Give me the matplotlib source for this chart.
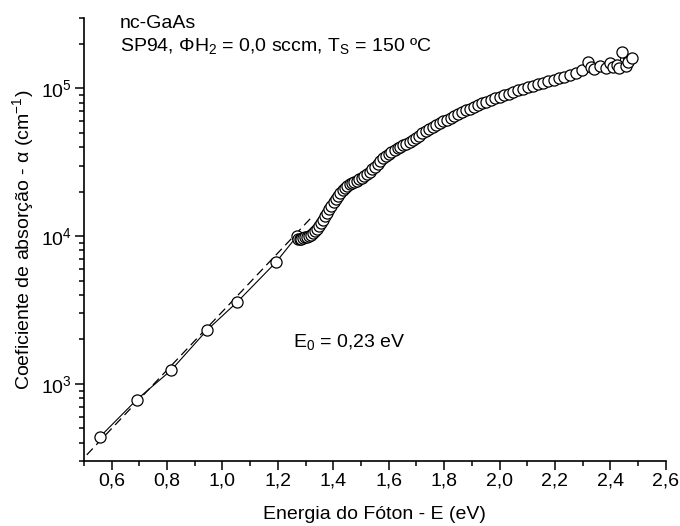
import math
import matplotlib
matplotlib.use("Agg")
import matplotlib.pyplot as plt
from matplotlib.ticker import LogLocator, MultipleLocator, FixedLocator, FuncFormatter, NullFormatter

plt.rcParams['font.family'] = ['Liberation Sans', 'DejaVu Sans']
plt.rcParams['mathtext.fontset'] = 'custom'
plt.rcParams['mathtext.rm'] = 'Liberation Sans'
plt.rcParams['mathtext.it'] = 'Liberation Sans:italic'
plt.rcParams['mathtext.bf'] = 'Liberation Sans:bold'

# low-energy points
E_low = [0.558, 0.691, 0.814, 0.944, 1.052, 1.193, 1.269]
a_low = [438, 782, 1232, 2307, 3560, 6650, 10000]

# dense spectrum
E_hi = [1.272, 1.278, 1.285, 1.292, 1.298, 1.305, 1.312, 1.319, 1.326, 1.333,
        1.341, 1.348, 1.355, 1.363, 1.370, 1.378, 1.385, 1.393, 1.401, 1.409,
        1.417, 1.425, 1.434, 1.442, 1.450, 1.459, 1.467, 1.476, 1.485, 1.494,
        1.503, 1.512, 1.521, 1.531, 1.540, 1.550, 1.560, 1.570, 1.580, 1.590,
        1.600, 1.610, 1.621, 1.632, 1.642, 1.653, 1.664, 1.676, 1.687, 1.699,
        1.710, 1.722, 1.734, 1.746, 1.759, 1.771, 1.784, 1.797, 1.810, 1.824,
        1.837, 1.851, 1.865, 1.879, 1.893, 1.908, 1.922, 1.938, 1.953, 1.968,
        1.984, 2.000, 2.016, 2.033, 2.050, 2.067, 2.084, 2.102, 2.120, 2.138,
        2.157, 2.175, 2.195, 2.214, 2.234, 2.255, 2.275, 2.296, 2.318, 2.330,
        2.340, 2.362, 2.385, 2.400, 2.408, 2.424, 2.431, 2.442, 2.455, 2.465,
        2.480]
a_hi = [9.6e3, 9.5e3, 9.6e3, 9.7e3, 9.8e3, 9.9e3, 1.00e4, 1.02e4, 1.05e4, 1.08e4,
        1.12e4, 1.17e4, 1.22e4, 1.29e4, 1.36e4, 1.44e4, 1.52e4, 1.60e4, 1.69e4, 1.78e4,
        1.87e4, 1.96e4, 2.04e4, 2.11e4, 2.18e4, 2.24e4, 2.29e4, 2.33e4, 2.37e4, 2.42e4,
        2.47e4, 2.54e4, 2.62e4, 2.72e4, 2.83e4, 2.96e4, 3.09e4, 3.23e4, 3.37e4, 3.50e4,
        3.62e4, 3.73e4, 3.83e4, 3.93e4, 4.02e4, 4.12e4, 4.23e4, 4.36e4, 4.50e4, 4.65e4,
        4.80e4, 4.96e4, 5.12e4, 5.28e4, 5.45e4, 5.62e4, 5.80e4, 5.98e4, 6.16e4, 6.35e4,
        6.54e4, 6.73e4, 6.92e4, 7.11e4, 7.30e4, 7.50e4, 7.70e4, 7.91e4, 8.12e4, 8.33e4,
        8.55e4, 8.77e4, 9.00e4, 9.23e4, 9.47e4, 9.71e4, 9.96e4, 1.02e5, 1.045e5, 1.07e5,
        1.095e5, 1.12e5, 1.145e5, 1.17e5, 1.20e5, 1.23e5, 1.27e5, 1.33e5, 1.50e5, 1.40e5,
        1.36e5, 1.42e5, 1.38e5, 1.48e5, 1.40e5, 1.44e5, 1.38e5, 1.77e5, 1.42e5, 1.50e5,
        1.62e5]

# Urbach fit line endpoints
E_fit = [0.51, 1.32]
a_fit = [330, 13300]

xticks = [0.6, 0.8, 1.0, 1.2, 1.4, 1.6, 1.8, 2.0, 2.2, 2.4, 2.6]

FS = 14

fig = plt.figure(figsize=(6.8, 5.26), dpi=100)
ax = fig.add_axes([0.1235, 0.1236, 0.8555, 0.8422])

ax.plot(E_fit, a_fit, color='black', lw=0.9, ls=(0, (7, 4)), zorder=1)
E_all = E_low + E_hi
a_all = a_low + a_hi
ax.plot(E_all, a_all, color='black', lw=0.8, zorder=2)
ax.plot(E_all, a_all, ls='none', marker='o', ms=8, mfc='white', mec='black',
        mew=0.9, zorder=3)

ax.set_yscale('log')
ax.set_xlim(0.5, 2.6)
ax.set_ylim(300, 3e5)

ax.xaxis.set_major_locator(FixedLocator(xticks))
ax.xaxis.set_minor_locator(MultipleLocator(0.1))
ax.xaxis.set_major_formatter(FuncFormatter(lambda v, p: f"{v:.1f}".replace('.', ',')))
ax.yaxis.set_major_locator(LogLocator(base=10, numticks=10))
ax.yaxis.set_minor_locator(LogLocator(base=10, subs=[2, 3, 4, 5, 6, 7, 8, 9], numticks=20))
ax.yaxis.set_minor_formatter(NullFormatter())
ax.yaxis.set_major_formatter(FuncFormatter(lambda v, p: r"$\mathregular{10^{%d}}$" % round(math.log10(v))))

for s in ['top', 'right']:
    ax.spines[s].set_visible(False)
for s in ['left', 'bottom']:
    ax.spines[s].set_linewidth(1.2)

ax.tick_params(which='major', direction='out', length=6.5, width=1.1, labelsize=FS, pad=2)
ax.tick_params(which='minor', direction='out', length=3.5, width=1.1)

ax.set_xlabel('Energia do Fóton - E (eV)', fontsize=FS, labelpad=12)
ax.set_ylabel(r'Coeficiente de absorção - α (cm$^{\mathregular{-1}}$)', fontsize=FS, labelpad=4)

fig.text(120/680, 1 - 28/526, 'nc-GaAs', fontsize=FS, va='baseline', ha='left')
fig.text(120/680, 1 - 51/526,
         r'SP94, ΦH$_{\mathregular{2}}$ = 0,0 sccm, T$_{\mathregular{S}}$ = 150 ºC',
         fontsize=FS, va='baseline', ha='left')
fig.text(293/680, 1 - 347/526, r'E$_{\mathregular{0}}$ = 0,23 eV', fontsize=FS,
         va='baseline', ha='left')

fig.savefig('out.png', dpi=100)
